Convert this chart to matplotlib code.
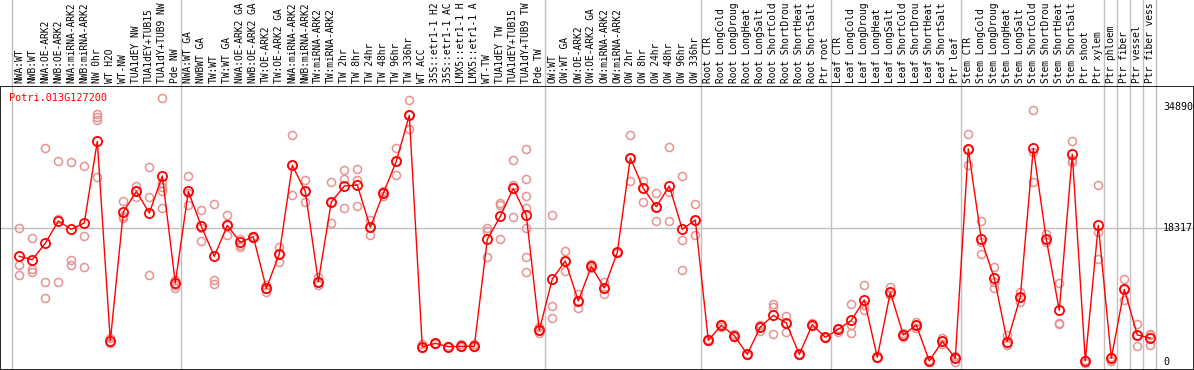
import matplotlib
matplotlib.use("Agg")
import matplotlib.pyplot as plt
import matplotlib.transforms as mtransforms

# column labels as shown (truncated at 14 chars in the source picture)
labels = [
    "NWA:WT", "NWB:WT", "NWA:OE-ARK2", "NWB:OE-ARK2", "NWA:miRNA-ARK2", "NWB:miRNA-ARK2",
    "NW 0hr", "WT H2O", "WT-NW", "TUA1dEY NW", "TUA1dEY+TUB15", "TUA1dY+TUB9 NW", "Pde NW",
    "NWA:WT GA", "NWBWT GA", "TW:WT", "TW:WT GA", "NWA:OE-ARK2 GA", "NWB:OE-ARK2 GA",
    "TW:OE-ARK2", "TW:OE-ARK2 GA", "NWA:miRNA-ARK2", "NWB:miRNA-ARK2", "TW:miRNA-ARK2",
    "TW:miRNA-ARK2", "TW 2hr", "TW 8hr", "TW 24hr", "TW 48hr", "TW 96hr", "TW 336hr",
    "WT ACC", "35S::etr1-1 H2", "35S::etr1-1 AC", "LMX5::etr1-1 H", "LMX5::etr1-1 A",
    "WT-TW", "TUA1dEY TW", "TUA1dEY+TUB15", "TUA1dY+TUB9 TW", "Pde TW",
    "OW:WT", "OW:WT GA", "OW:OE-ARK2", "OW:OE-ARK2 GA", "OW:miRNA-ARK2", "OW:miRNA-ARK2",
    "OW 2hr", "OW 8hr", "OW 24hr", "OW 48hr", "OW 96hr", "OW 336hr",
    "Root CTR", "Root LongCold", "Root LongDroug", "Root LongHeat", "Root LongSalt",
    "Root ShortCold", "Root ShortDrou", "Root ShortHeat", "Root ShortSalt", "Ptr root",
    "Leaf CTR", "Leaf LongCold", "Leaf LongDroug", "Leaf LongHeat", "Leaf LongSalt",
    "Leaf ShortCold", "Leaf ShortDrou", "Leaf ShortHeat", "Leaf ShortSalt", "Ptr leaf",
    "Stem CTR", "Stem LongCold", "Stem LongDroug", "Stem LongHeat", "Stem LongSalt",
    "Stem ShortCold", "Stem ShortDrou", "Stem ShortHeat", "Stem ShortSalt",
    "Ptr shoot", "Ptr xylem", "Ptr phloem", "Ptr fiber", "Ptr vessel", "Ptr fiber vess",
]

means = [
    14481, 14024, 16262, 19323, 18181, 19049, 30240, 2878, 20556, 23388, 20419, 25489, 10826,
    23388, 18592, 14481, 18729, 16399, 17176, 10095, 14800, 26951, 23388, 11009, 21926,
    24119, 24256, 18455, 23114, 27499, 33803,
    2056, 2558, 2101, 2147, 2147, 16810, 19962, 23799, 20099, 4340,
    11374, 13841, 8359, 13110, 10141, 15029, 27956, 23799, 21287, 24119, 18181, 19460,
    2969, 5025, 3609, 1051, 4796, 6395, 5345, 1051, 5116, 3380,
    4477, 5710, 8496, 640, 9547, 3700, 5070, 137, 2832, 502,
    29190, 16810, 11466, 2786, 8908, 29281, 16810, 7080, 28459,
    137, 18729, 502, 9958, 3700, 3289,
]

reps = [
    [18318, 13247, 11877], [16947, 12745, 12288], [29281, 10918, 8771], [27499, 19551, 10918],
    [27362, 14024, 13293], [26860, 17221, 12973], [33940, 33529, 33118, 25307], [3243, 2558],
    [22018, 20008, 19688], [24165, 23388, 22566], [26677, 22566, 11877],
    [36133, 24484, 24028, 23480, 21058], [11283, 10552, 10187],
    [25444, 23114, 21515], [20784, 18318, 16628], [21652, 11192, 10643], [20145, 18729, 17358],
    [16856, 16034, 15714], [17313, 17130, 17039], [10552, 10004, 9638], [15714, 14800, 13750],
    [31062, 26951, 22840], [24896, 23388, 21881], [11603, 11009, 10552], [24713, 21926, 19003],
    [26266, 25033, 21058], [26449, 24941, 21378], [19460, 18455, 17358], [23434, 23114, 22749],
    [29372, 27499, 25581], [35859, 33803, 31885],
    [2467, 2056, 1873], [2649, 2512], [2193, 2056], [2467, 2147, 2010], [2467, 2147, 2010],
    [18409, 17952, 14344], [21744, 21515, 16810], [27636, 24256, 19825],
    [29144, 25033, 22703, 21150, 18318, 14344, 12334], [4842, 4340, 3928],
    [20145, 7629, 5984], [15211, 13841, 12516], [9319, 8359, 7446], [13430, 13110, 12836],
    [10918, 10141, 9273], [15120, 15029, 14937], [31062, 27956, 24759], [24759, 23799, 21926],
    [23114, 21287, 19277], [29418, 23342, 19277], [25489, 16673, 12562], [21652, 19460, 17358],
    [3106, 2878], [5208, 5025, 4842], [3791, 3609, 3380], [1142, 959], [5070, 4796, 4248],
    [7903, 7583, 3837], [6304, 5345, 4066], [1142, 959], [5390, 5116, 4888], [3472, 3243],
    [4614, 4477, 4066], [7903, 5070, 3974], [10506, 7811, 7126], [731, 502],
    [10324, 9547, 9182], [3928, 3700, 3472], [5436, 5070, 4705], [274, 46],
    [3335, 2832, 2421], [868, 502, 46],
    [31199, 29190, 26951], [19277, 16490, 14755], [13064, 11009, 10095], [3700, 2558, 2330],
    [9547, 8908, 8268], [34534, 28824, 24621], [17541, 16810, 16490], [10780, 5390, 5162],
    [30286, 27636, 27454],
    [274, -183], [24256, 17861, 14115], [731, 137], [11374, 9958, 8496],
    [5208, 3700, 2193], [3883, 3700, 2330],
]

separators = [-1, 12, 40, 52, 62, 72, 83, 84, 85, 86, 87]
yticks = [0, 18317, 34890]
gene = "Potri.013G127200"

W, H = 1194, 370
label_h = 86
fig = plt.figure(figsize=(W / 100, H / 100), dpi=100)
xlim = (-19.3 / 13, (W - 19.3) / 13)

ax = fig.add_axes([0, 0, 1, (H - label_h) / H])
top = fig.add_axes([0, (H - label_h) / H, 1, label_h / H])
for a in (ax, top):
    a.set_xlim(*xlim)
    a.set_xticks([])
    a.set_yticks([])
    for s in separators:
        a.axvline(s + 0.4, color="#c0c0c0", lw=1, zorder=0)
for s in top.spines.values():
    s.set_visible(False)
top.set_ylim(0, 1)
for s in ax.spines.values():
    s.set_color("black")
    s.set_linewidth(1.2)

ax.set_ylim(-1096, 37823)
ax.axhline(yticks[1], color="#c0c0c0", lw=1, zorder=0)

x = list(range(len(labels)))
for i, r in enumerate(reps):
    ax.plot([i] * len(r), r, "o", ms=5.8, mfc="none", mec="#e89292", mew=1.1, zorder=2)
ax.plot(x, means, "-", color="red", lw=1.0, zorder=3)
ax.plot(x, means, "o", ms=6.6, mfc="none", mec="red", mew=1.3, zorder=4)

ax.text(9.5 / W, 1 - 7 / (H - label_h), gene, transform=ax.transAxes, color="red",
        family="DejaVu Sans Mono", fontsize=7.4, va="top", ha="left")

trans = mtransforms.blended_transform_factory(ax.transAxes, ax.transData)
for v in yticks:
    ax.text(1163 / W, v, str(v), transform=trans, family="DejaVu Sans Mono",
            fontsize=7.2, va="center", ha="left")

for i, lab in enumerate(labels):
    top.text(i, 3 / label_h, lab, rotation=90, va="bottom", ha="center",
             family="DejaVu Sans Mono", fontsize=6.9)

fig.savefig("out.png", dpi=100)
